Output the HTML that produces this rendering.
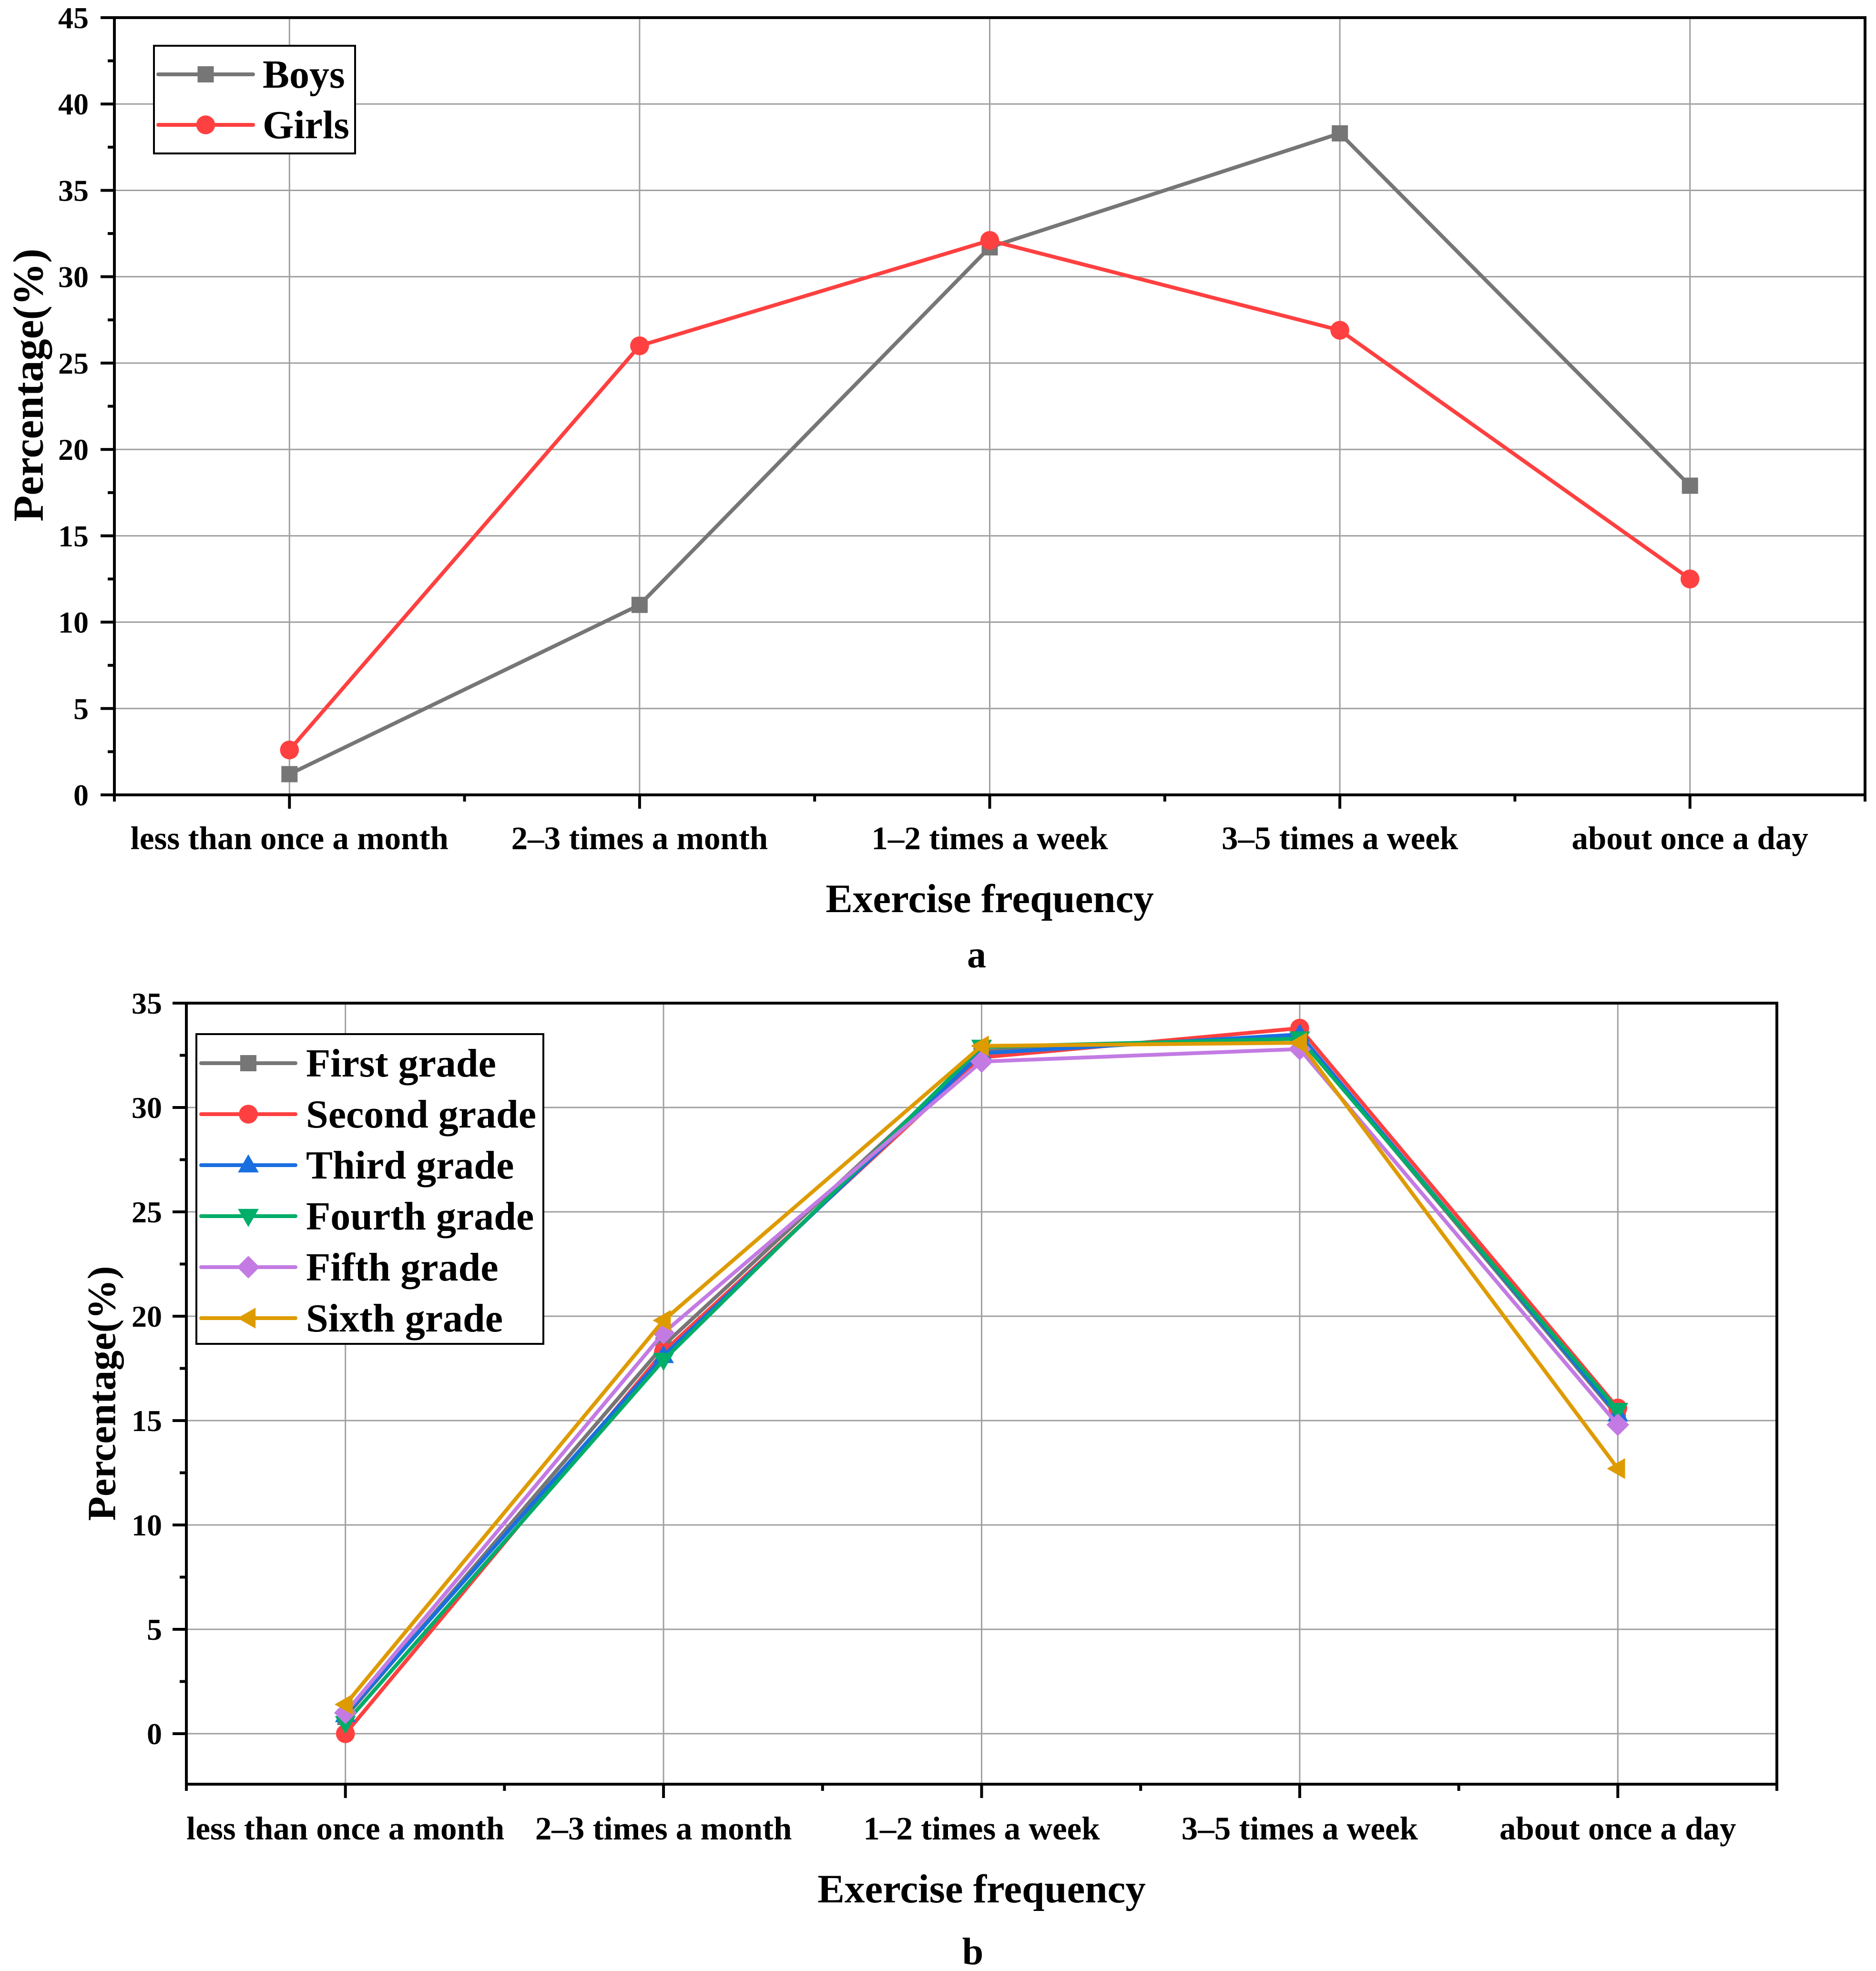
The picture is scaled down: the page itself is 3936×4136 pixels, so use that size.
<!DOCTYPE html>
<html><head><meta charset="utf-8"><style>
html,body{margin:0;padding:0;background:#fff;}
svg{display:block;font-family:"Liberation Serif",serif;font-weight:bold;}
</style></head><body>
<svg id="fig" width="3936" height="4136" viewBox="0 0 3936 4136" xmlns="http://www.w3.org/2000/svg"></svg>
<script>
const categories = ["less than once a month","2–3 times a month","1–2 times a week","3–5 times a week","about once a day"];
const boys = [1.2, 11.0, 31.7, 38.3, 17.9];
const girls = [2.6, 26.0, 32.1, 26.9, 12.5];
const grade1 = [0.8, 18.6, 32.7, 33.4, 15.2];
const grade2 = [0.0, 18.3, 32.4, 33.8, 15.6];
const grade3 = [0.9, 18.1, 32.6, 33.5, 15.3];
const grade4 = [0.5, 17.9, 32.9, 33.3, 15.5];
const grade5 = [1.0, 19.2, 32.2, 32.8, 14.8];
const grade6 = [1.4, 19.8, 32.95, 33.1, 12.7];
const ticksA = [0,5,10,15,20,25,30,35,40,45];
const ticksB = [0,5,10,15,20,25,30,35];

const NS="http://www.w3.org/2000/svg";
const svg=document.getElementById('fig');
function mk(tag,attrs,parent,text){const e=document.createElementNS(NS,tag);for(const k in attrs)e.setAttribute(k,attrs[k]);if(text!==undefined)e.textContent=text;(parent||svg).appendChild(e);return e;}

function marker(g,shape,x,y,color,s){
  let e;
  if(shape==='square'){e=mk('rect',{x:x-s,y:y-s,width:2*s,height:2*s,fill:color},g);}
  else if(shape==='circle'){e=mk('circle',{cx:x,cy:y,r:s*1.1,fill:color},g);}
  else if(shape==='up'){e=mk('polygon',{points:`${x},${y-s*1.2} ${x-s*1.15},${y+s*0.8} ${x+s*1.15},${y+s*0.8}`,fill:color},g);}
  else if(shape==='down'){e=mk('polygon',{points:`${x},${y+s*1.2} ${x-s*1.15},${y-s*0.8} ${x+s*1.15},${y-s*0.8}`,fill:color},g);}
  else if(shape==='diamond'){e=mk('polygon',{points:`${x},${y-s*1.25} ${x+s*1.25},${y} ${x},${y+s*1.25} ${x-s*1.25},${y}`,fill:color},g);}
  else if(shape==='left'){e=mk('polygon',{points:`${x-s*1.2},${y} ${x+s*0.8},${y-s*1.15} ${x+s*0.8},${y+s*1.15}`,fill:color},g);}
  return e;
}

function chart(cfg){
  const {L,R,T,B,ymin,ymax,ticks,series,prefix,tickRight,catY,titleY,ytitleX,ytitleY,ytitleSize,label,labelX,labelY,legend}=cfg;
  const g=mk('g',{});
  
  
  const xs=i=>L+(R-L)/categories.length*(i+0.5);
  const ys=v=>B-(v-ymin)/(ymax-ymin)*(B-T);
  const grid=mk('g',{stroke:'#a0a0a0','stroke-width':3},g);
  
  
  categories.forEach((c,i)=>mk('line',{x1:xs(i),x2:xs(i),y1:T,y2:B},grid));
  ticks.forEach(t=>mk('line',{x1:L,x2:R,y1:ys(t),y2:ys(t)},grid));
  mk('rect',{x:L,y:T,width:R-L,height:B-T,fill:'none',stroke:'#000','stroke-width':6},g);
  const yax=mk('g',{},g);
  
  
  ticks.forEach((t,i)=>{
    mk('line',{x1:L-29,x2:L,y1:ys(t),y2:ys(t),stroke:'#000','stroke-width':6},yax);
    if(i<ticks.length-1){const m=t+(ticks[1]-ticks[0])/2;mk('line',{x1:L-14,x2:L,y1:ys(m),y2:ys(m),stroke:'#000','stroke-width':6},yax);}
    const tl=mk('text',{x:tickRight,y:ys(t)+22,'text-anchor':'end','font-size':64},yax,String(t));
    
    
  });
  const yt=mk('text',{x:ytitleX,y:ytitleY,'text-anchor':'middle','font-size':ytitleSize,transform:`rotate(-90 ${ytitleX} ${ytitleY})`,dy:ytitleSize*0.35},g,'Percentage(%)');
  
  
  const xax=mk('g',{},g);
  
  
  const bw=(R-L)/categories.length;
  for(let k=0;k<=categories.length;k++){mk('line',{x1:L+k*bw,x2:L+k*bw,y1:B,y2:B+14,stroke:'#000','stroke-width':6},xax);}
  categories.forEach((c,i)=>{
    mk('line',{x1:xs(i),x2:xs(i),y1:B,y2:B+29,stroke:'#000','stroke-width':6},xax);
    const tl=mk('text',{x:xs(i),y:catY,'text-anchor':'middle','font-size':69},xax,c);
    
    
  });
  const xt=mk('text',{x:(L+R)/2,y:titleY,'text-anchor':'middle','font-size':85},g,'Exercise frequency');
  
  
  const pl=mk('text',{x:labelX,y:labelY,'text-anchor':'middle','font-size':80},g,label);
  
  
  series.forEach(s=>{
    const sg=mk('g',{},g);
    
    
    mk('polyline',{points:s.data.map((v,i)=>xs(i)+','+ys(v)).join(' '),fill:'none',stroke:s.color,'stroke-width':8,'stroke-linejoin':'round'},sg);
    s.data.forEach((v,i)=>{
      const m=marker(sg,s.shape,xs(i),ys(v),s.color,s.size);
      
      
    });
  });
  const lg=mk('g',{},g);
  
  
  mk('rect',{x:legend.x,y:legend.y,width:legend.w,height:legend.h,fill:'#fff',stroke:'#000','stroke-width':4},lg);
  series.forEach((s,i)=>{
    const y=legend.y0+i*legend.dy;
    const eg=mk('g',{},lg);
    
    
    mk('line',{x1:legend.lx1,x2:legend.lx2,y1:y,y2:y,stroke:s.color,'stroke-width':8,'stroke-linecap':'round'},eg);
    marker(eg,s.shape,(legend.lx1+legend.lx2)/2,y,s.color,s.size);
    mk('text',{x:legend.tx,y:y+28,'font-size':84},eg,s.name);
  });
}

chart({L:240,R:3913,T:37,B:1668,ymin:0,ymax:45,ticks:ticksA,prefix:'a',tickRight:186,catY:1782,titleY:1914,ytitleX:58,ytitleY:808,ytitleSize:90,label:'a',labelX:2049,labelY:2030,
  series:[{name:'Boys',data:boys,color:'#767676',shape:'square',size:17},{name:'Girls',data:girls,color:'#ff4040',shape:'circle',size:18}],
  legend:{x:323,y:96,w:422,h:226,y0:156,dy:106,lx1:332,lx2:531,tx:551}});

chart({L:391,R:3728,T:2105,B:3744,ymin:-2.42,ymax:35,ticks:ticksB,prefix:'b',tickRight:340,catY:3860,titleY:3992,ytitleX:212,ytitleY:2924,ytitleSize:84,label:'b',labelX:2041,labelY:4122,
  series:[
    {name:'First grade',data:grade1,color:'#767676',shape:'square',size:17},
    {name:'Second grade',data:grade2,color:'#ff4040',shape:'circle',size:18},
    {name:'Third grade',data:grade3,color:'#1a6fe0',shape:'up',size:19},
    {name:'Fourth grade',data:grade4,color:'#00ad69',shape:'down',size:19},
    {name:'Fifth grade',data:grade5,color:'#c37be3',shape:'diamond',size:19},
    {name:'Sixth grade',data:grade6,color:'#de9b00',shape:'left',size:19}],
  legend:{x:412,y:2170,w:728,h:650,y0:2231,dy:107,lx1:422,lx2:620,tx:642}});
</script>
</body></html>
